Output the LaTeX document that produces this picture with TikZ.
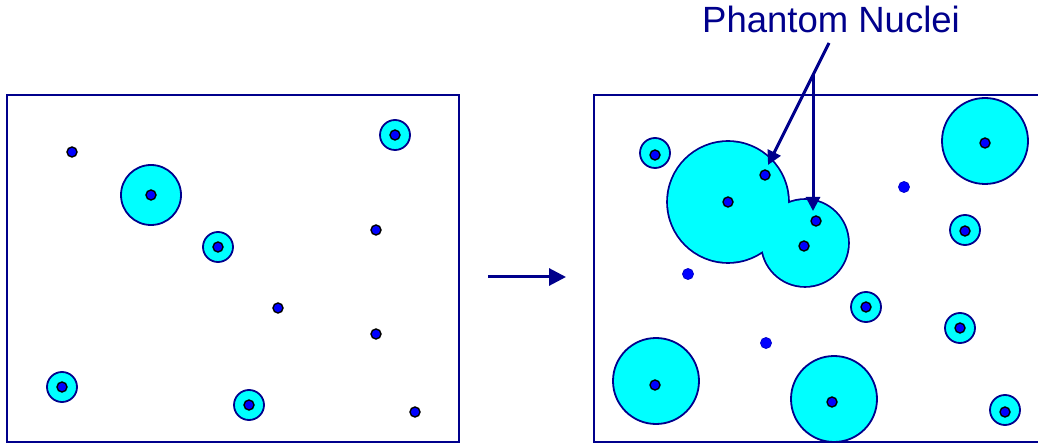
\documentclass[tikz,border=0pt]{standalone}
\usepackage{fontspec}
\setmainfont{Liberation Sans}
\usetikzlibrary{arrows.meta}
\begin{document}
\begin{tikzpicture}[x=1pt, y=-1pt,
    nucleus/.style={circle, fill=dotBlue, draw=black, line width=1.4pt, minimum size=10pt, inner sep=0pt},
    phantom/.style={circle, fill=dotBlue, draw=dotBlue!80!black, line width=0.8pt, minimum size=11pt, inner sep=0pt},
    grain/.style={fill=grainCyan, draw=lineNavy, line width=1.8pt},
    pointer/.style={draw=lineNavy, line width=3pt, -{Triangle[length=14pt, width=14pt]}}]
    % Define colours
    \definecolor{lineNavy}{HTML}{00008C}
    \definecolor{dotBlue}{HTML}{0000FF}
    \definecolor{grainCyan}{HTML}{00FFFF}

    % Fix picture size
    \useasboundingbox (0,0) rectangle (1038,443);

    % Draw boxes
    \draw[lineNavy, line width=2pt] (7,95) rectangle (459,442);
    \draw[lineNavy, line width=2pt] (594,95) rectangle (1045,442);

    % Left box: grains
    \filldraw[grain] (151,195) circle (30);
    \foreach \x/\y in {395/135, 218/247, 62/387, 249/405}
        \filldraw[grain] (\x,\y) circle (15);

    % Left box: nuclei
    \foreach \x/\y [count=\i] in {72/152, 151/195, 395/135, 218/247, 376/230, 278/308, 376/334, 62/387, 249/405, 415/412}
        \node[nucleus] (L\i) at (\x,\y) {};

    % Right box: merged grains
    \draw[lineNavy, line width=3.6pt] (728,202) circle (60) (805,243) circle (43);
    \fill[grainCyan] (728,202) circle (60) (805,243) circle (43);

    % Right box: grains
    \foreach \x/\y in {985/141, 656/381, 834/399}
        \filldraw[grain] (\x,\y) circle (43);
    \foreach \x/\y in {655/153, 965/230, 866/307, 960/328, 1005/410}
        \filldraw[grain] (\x,\y) circle (15);

    % Right box: nuclei
    \foreach \x/\y [count=\i] in {655/155, 728/202, 765/175, 816/221, 804/246, 985/143, 965/231, 866/307, 960/328, 655/385, 832/402, 1005/412}
        \node[nucleus] (R\i) at (\x,\y) {};
    \foreach \x/\y [count=\i] in {904/187, 688/274, 766/343}
        \node[phantom] (N\i) at (\x,\y) {};

    % Arrow between boxes
    \coordinate (gapL) at (488,277);
    \coordinate (gapR) at (566,277);
    \draw[pointer, -{Triangle[length=17pt, width=17pt]}] (gapL) -- (gapR);

    % Label with arrows
    \node[text=lineNavy, font=\fontsize{36.5}{40}\selectfont, anchor=base, inner sep=0pt] (label) at (831,33) {Phantom Nuclei};
    \coordinate (fork) at (829,43);
    \coordinate (split) at (813,75);
    \coordinate (tipA) at (768,165);
    \coordinate (tipB) at (813,211);
    \draw[pointer] (fork) -- (tipA);
    \draw[pointer] (split) -- (tipB);

\end{tikzpicture}
\end{document}
